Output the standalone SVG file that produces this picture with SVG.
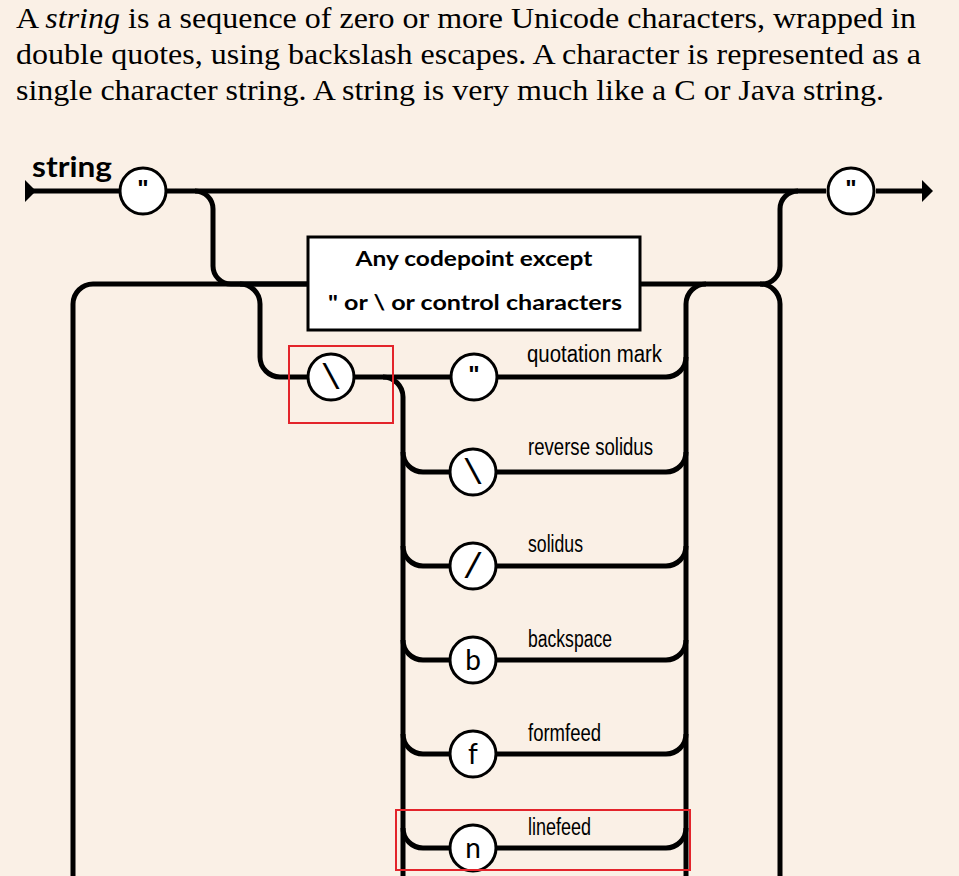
<svg xmlns="http://www.w3.org/2000/svg" width="959" height="876" viewBox="0 0 959 876">
<defs>
<marker id="tri" viewBox="0 0 11 22" refX="0" refY="11" markerWidth="11" markerHeight="22" markerUnits="userSpaceOnUse" orient="auto"><path d="M0,0 L11,11 L0,22 Z" fill="#000"/></marker>
</defs>
<style>
.bg{fill:#FAF0E6}
.title{font-family:"Liberation Serif","Times New Roman",serif;font-size:29px;fill:#000}
.line{fill:none;stroke:#000;stroke-width:5}
.term circle{fill:#fff;stroke:#000;stroke-width:3}
.box rect{fill:#fff;stroke:#000;stroke-width:3}
.boxtxt{font-family:Lato,"Liberation Sans",sans-serif;font-weight:bold;font-size:21px;fill:#000;text-anchor:middle}
.q{font-family:"Liberation Sans",Arial,sans-serif;font-weight:bold;font-size:24px;fill:#000;text-anchor:middle}
.sl{font-family:"Liberation Mono","Courier New",monospace;font-size:35px;fill:#000;text-anchor:middle}
.ch{font-family:Lato,"Liberation Sans",sans-serif;font-size:28px;fill:#000;text-anchor:middle}
.lbl{font-family:"Liberation Sans",Arial,sans-serif;font-size:23px;fill:#000}
.name{font-family:Lato,"Liberation Sans",sans-serif;font-weight:bold;font-size:28px;fill:#000}
.hl{fill:none;stroke:#E3242B;stroke-width:2}
</style>
<rect class="bg" x="0" y="0" width="959" height="876"/>
<g id="intro">
<text class="title" x="16" y="28" textLength="900" lengthAdjust="spacingAndGlyphs">A <tspan font-style="italic">string</tspan> is a sequence of zero or more Unicode characters, wrapped in</text>
<text class="title" x="16" y="64" textLength="905" lengthAdjust="spacingAndGlyphs">double quotes, using backslash escapes. A character is represented as a</text>
<text class="title" x="16" y="100" textLength="868" lengthAdjust="spacingAndGlyphs">single character string. A string is very much like a C or Java string.</text>
</g>
<g id="connectors">
<path class="line" d="M25,191 H826" marker-start="url(#tri)"/>
<path class="line" d="M876,191 H922" marker-end="url(#tri)"/>
<path class="line" d="M195,191 A18,18 0 0 1 213,209 V266 A18,18 0 0 0 231,284 H308"/>
<path class="line" d="M640,284 H762 A18,18 0 0 0 780,266 V209 A18,18 0 0 1 798,191"/>
<path class="line" d="M308,284 H93 A20,20 0 0 0 73,304 V876"/>
<path class="line" d="M760,284 A20,20 0 0 1 780,304 V876"/>
<path class="line" d="M240,284 A20,20 0 0 1 260,304 V357 A20,20 0 0 0 280,377 H666 A20,20 0 0 0 686,357 V304 A20,20 0 0 1 706,284"/>
<path class="line" d="M686,357 V876"/>
<path class="line" d="M383,377 A20,20 0 0 1 403,397 V876"/>
<path class="line" d="M403,452 A20,20 0 0 0 423,472 H666 A20,20 0 0 0 686,452"/>
<path class="line" d="M403,546 A20,20 0 0 0 423,566 H666 A20,20 0 0 0 686,546"/>
<path class="line" d="M403,640 A20,20 0 0 0 423,660 H666 A20,20 0 0 0 686,640"/>
<path class="line" d="M403,734 A20,20 0 0 0 423,754 H666 A20,20 0 0 0 686,734"/>
<path class="line" d="M403,828 A20,20 0 0 0 423,848 H666 A20,20 0 0 0 686,828"/>
</g>
<g id="label-string"><text class="name" x="32" y="177" textLength="80" lengthAdjust="spacingAndGlyphs">string</text></g>
<g id="open-quote" class="term"><circle cx="143" cy="191" r="23"/><text class="q" x="143" y="197">"</text></g>
<g id="close-quote" class="term"><circle cx="851" cy="191" r="23"/><text class="q" x="851" y="197">"</text></g>
<g id="any-codepoint" class="box"><rect x="308" y="237" width="332" height="93"/>
<text class="boxtxt" x="474" y="266" textLength="237" lengthAdjust="spacingAndGlyphs">Any codepoint except</text>
<text class="boxtxt" x="475" y="310" textLength="294" lengthAdjust="spacingAndGlyphs">" or \ or control characters</text></g>
<g id="escape" class="term"><circle cx="331" cy="377" r="23"/><text class="sl" x="331" y="389">\</text></g>
<g id="esc-quote" class="term"><circle cx="474" cy="377" r="23"/><text class="q" x="474" y="383">"</text>
<text class="lbl" x="527" y="362" textLength="135" lengthAdjust="spacingAndGlyphs">quotation mark</text></g>
<g id="esc-backslash" class="term"><circle cx="473" cy="472" r="23"/><text class="sl" x="473" y="484">\</text>
<text class="lbl" x="528" y="455" textLength="125" lengthAdjust="spacingAndGlyphs">reverse solidus</text></g>
<g id="esc-slash" class="term"><circle cx="473" cy="566" r="23"/><text class="sl" x="473" y="578">/</text>
<text class="lbl" x="528" y="552" textLength="55" lengthAdjust="spacingAndGlyphs">solidus</text></g>
<g id="esc-b" class="term"><circle cx="473" cy="660" r="23"/><text class="ch" x="473" y="670">b</text>
<text class="lbl" x="528" y="647" textLength="84" lengthAdjust="spacingAndGlyphs">backspace</text></g>
<g id="esc-f" class="term"><circle cx="473" cy="754" r="23"/><text class="ch" x="473" y="764">f</text>
<text class="lbl" x="528" y="741" textLength="73" lengthAdjust="spacingAndGlyphs">formfeed</text></g>
<g id="esc-n" class="term"><circle cx="473" cy="848" r="23"/><text class="ch" x="473" y="858">n</text>
<text class="lbl" x="528" y="835" textLength="63" lengthAdjust="spacingAndGlyphs">linefeed</text></g>
<g id="highlights">
<rect class="hl" x="289" y="346" width="104" height="77"/>
<rect class="hl" x="396" y="810" width="294" height="60"/>
</g>
</svg>
